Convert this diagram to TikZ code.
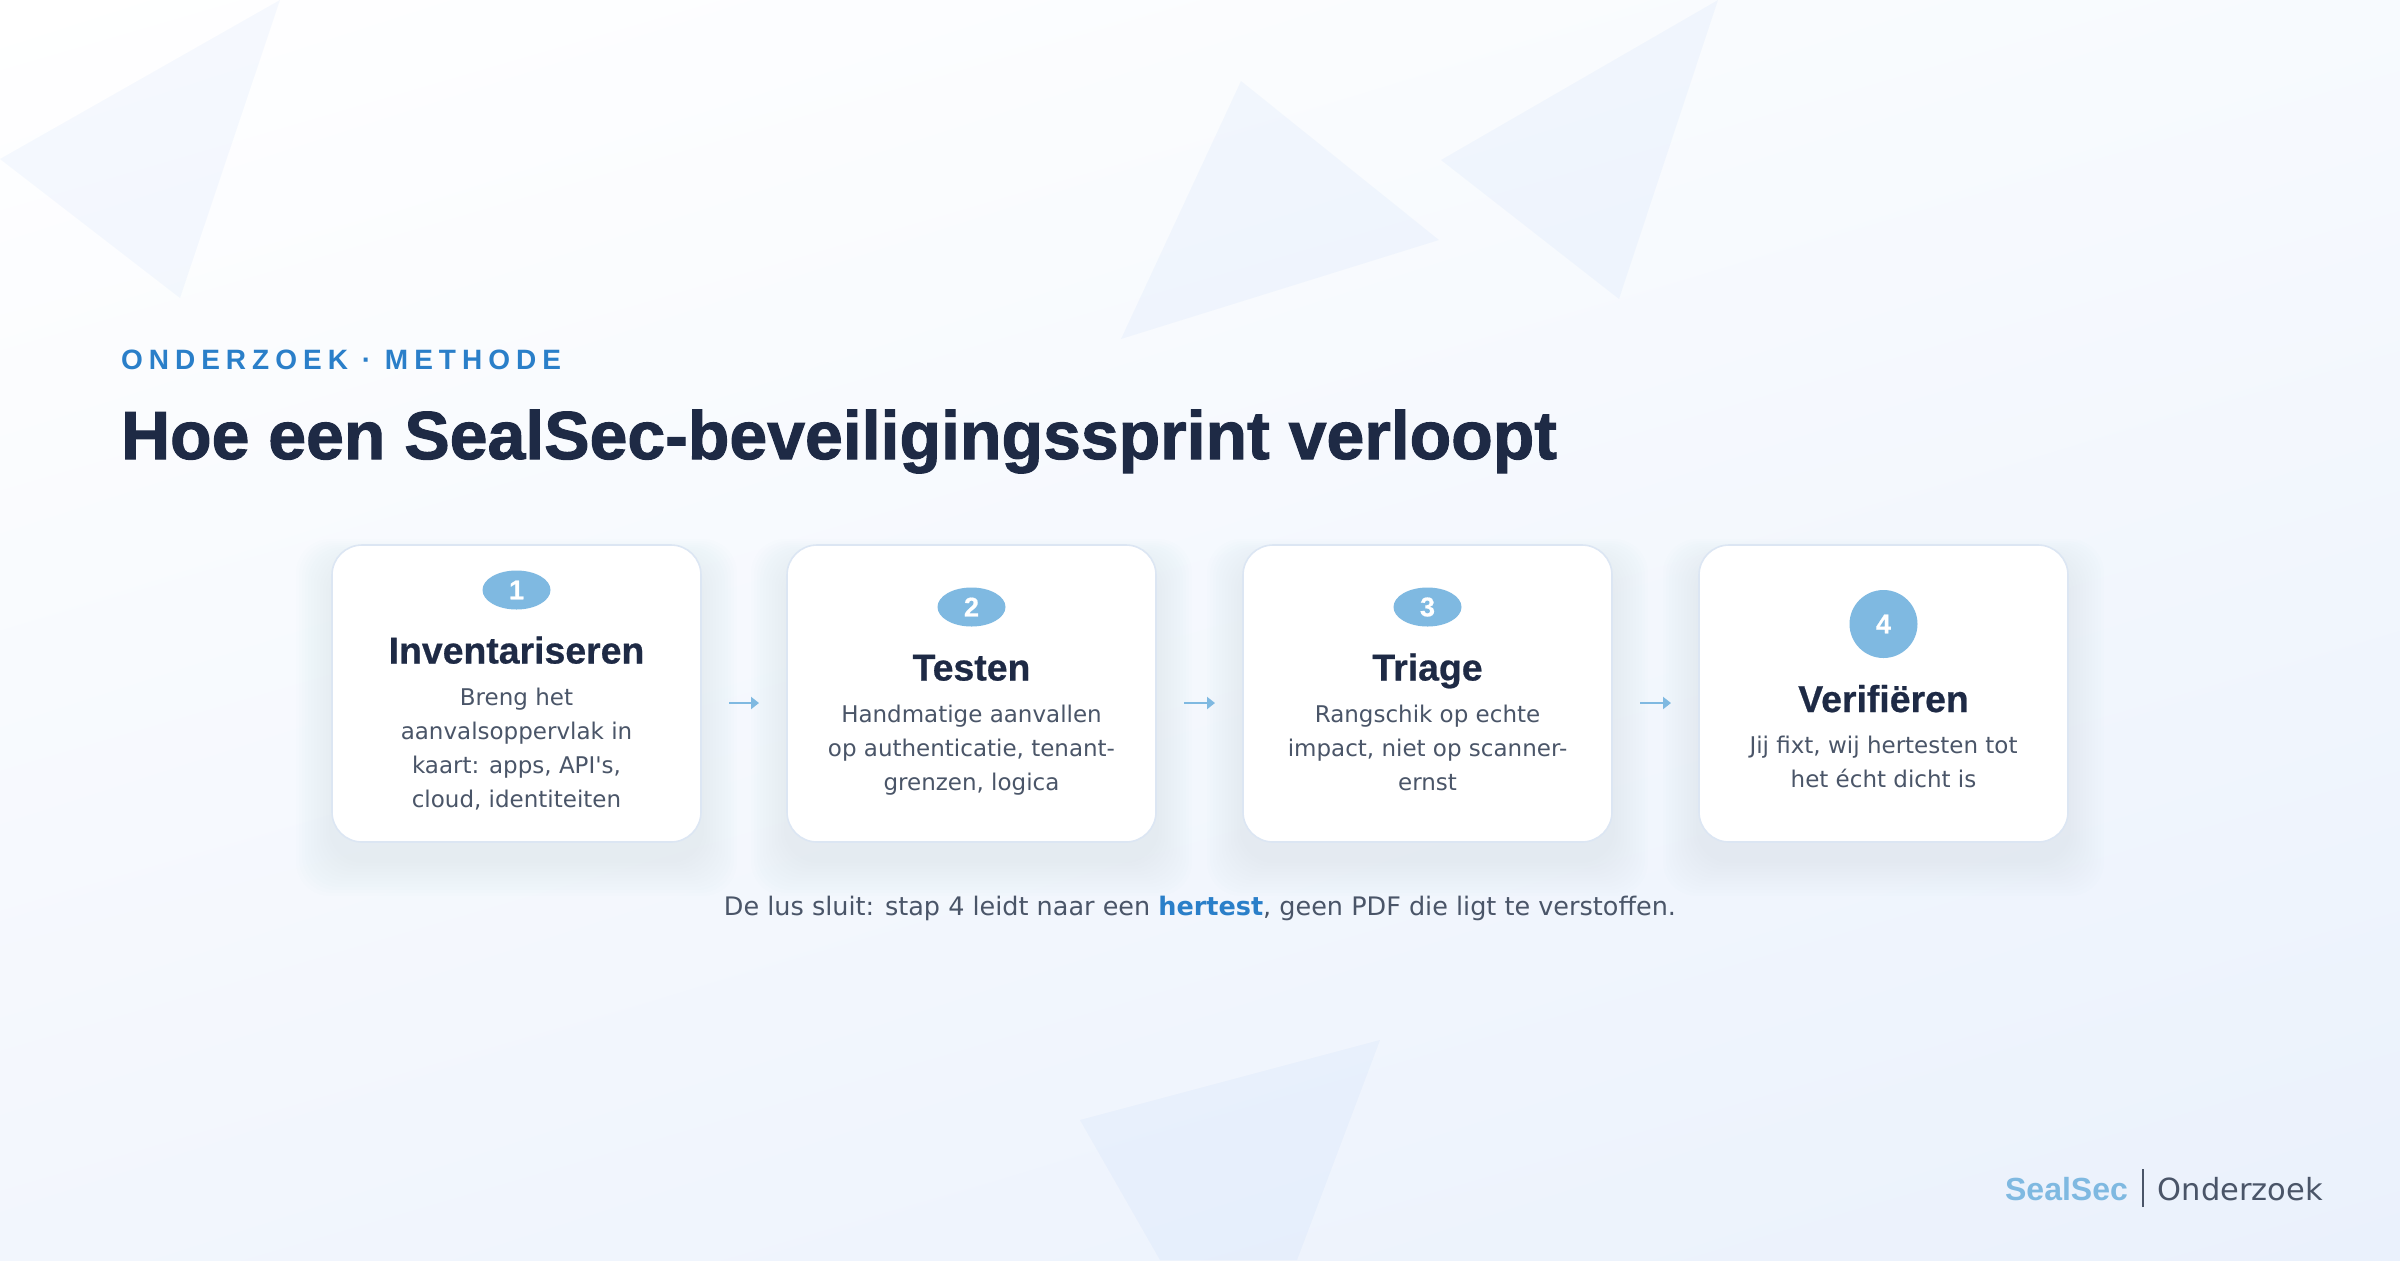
\documentclass[tikz,border=0pt]{standalone}
\usepackage{fontspec}
\setmainfont{DejaVu Sans}
\newfontfamily\bodyfont{DejaVu Sans}
\newfontfamily\headfont{Liberation Sans}
\newfontfamily\heavyfont{Liberation Sans Bold}[FakeBold=1.5]
\newfontfamily\titlefont{Liberation Sans Bold}[FakeBold=0.6]
\newfontfamily\kickerfont{Liberation Sans Bold}[LetterSpace=21.5]
\usetikzlibrary{positioning,shapes.geometric,arrows.meta,shadings}

\definecolor{c1e2a45}{RGB}{30,42,69}
\definecolor{c2a7fc9}{RGB}{42,127,201}
\definecolor{c4a5568}{RGB}{74,85,104}
\definecolor{c7fb9e1}{RGB}{127,185,225}
\definecolor{cdce6f3}{RGB}{220,230,243}
\definecolor{c3b82f6}{RGB}{59,130,246}
\definecolor{c6f94d0}{RGB}{111,148,208}
\definecolor{cf7fafe}{RGB}{247,250,254}
\definecolor{cf2f6fd}{RGB}{242,246,253}
\definecolor{ceaf1fc}{RGB}{234,241,252}

\begin{document}
\begin{tikzpicture}[x=0.5pt, y=-0.5pt, inner sep=0pt, outer sep=0pt,
  tri/.style={fill=c3b82f6, opacity=0.045},
  cardglow/.style={fill=c6f94d0, opacity=0.006, rounded corners=17pt},
  card/.style={draw=cdce6f3, fill=white, line width=0.8pt, rounded corners=15pt,
    minimum width=184.5pt, minimum height=148.5pt},
  badge/.style={ellipse, fill=c7fb9e1, text=white, minimum width=34pt,
    minimum height=19.5pt, font=\titlefont\fontsize{13.5}{13.5}\selectfont},
  badgeround/.style={badge, circle, minimum size=34pt},
  steptitle/.style={text=c1e2a45, font=\titlefont\fontsize{18.7}{20}\selectfont},
  stepbody/.style={text=c4a5568, align=center, font=\bodyfont\fontsize{11.5}{17}\selectfont},
  flow/.style={draw=c7fb9e1, line width=1pt, -{Triangle[length=4pt,width=6pt]},
    shorten <=14pt, shorten >=14pt},
  kicker/.style={text=c2a7fc9, font=\kickerfont\fontsize{14}{16}\selectfont},
  heading/.style={text=c1e2a45, font=\heavyfont\fontsize{34}{40}\selectfont},
  note/.style={text=c4a5568, font=\bodyfont\fontsize{12.75}{15}\selectfont},
  brandname/.style={text=c7fb9e1, font=\headfont\bfseries\fontsize{16}{18}\selectfont},
  brandsub/.style={text=c4a5568, font=\bodyfont\fontsize{15.25}{18}\selectfont},
  brandbar/.style={draw=c4a5568, line width=1pt}]

  \useasboundingbox (0,0) rectangle (2400,1260);

  \shade[upper left=white, upper right=cf7fafe, lower left=cf2f6fd, lower right=ceaf1fc]
    (0,0) rectangle (2400,1260);

  \path[tri] (280,0) -- (0,159) -- (180,298) -- cycle;
  \path[tri] (1241,81) -- (1439,240) -- (1121,339) -- cycle;
  \path[tri] (1718,0) -- (1441,160) -- (1619,299) -- cycle;
  \path[tri] (1380,1040) -- (1080,1120) -- (1160,1260) -- (1297,1260) -- cycle;

  \foreach \cx in {516.5,971.5,1427.5,1883.5}
    \foreach \g in {1,...,12}
      \path[cardglow] (\cx-184.5-3*\g, 563-2*\g) rectangle (\cx+184.5+3*\g, 860+3*\g);

  \node[card] (card1) at (516.5,693.5) {};
  \node[card] (card2) at (971.5,693.5) {};
  \node[card] (card3) at (1427.5,693.5) {};
  \node[card] (card4) at (1883.5,693.5) {};

  \node[badge, below=12.75pt of card1.north] (badge1) {1};
  \node[badge, below=21.25pt of card2.north] (badge2) {2};
  \node[badge, below=21.25pt of card3.north] (badge3) {3};
  \node[badgeround, below=22.5pt of card4.north] (badge4) {4};

  \node[steptitle, below=27pt of badge1.south, anchor=base] (title1) {Inventariseren};
  \node[steptitle, below=27pt of badge2.south, anchor=base] (title2) {Testen};
  \node[steptitle, below=27pt of badge3.south, anchor=base] (title3) {Triage};
  \node[steptitle, below=27pt of badge4.south, anchor=base] (title4) {Verifiëren};

  \node[stepbody, below=12.2pt of title1.base] (body1)
    {Breng het\\aanvalsoppervlak in\\kaart: apps, API's,\\cloud, identiteiten};
  \node[stepbody, below=12.2pt of title2.base] (body2)
    {Handmatige aanvallen\\op authenticatie, tenant-\\grenzen, logica};
  \node[stepbody, below=12.2pt of title3.base] (body3)
    {Rangschik op echte\\impact, niet op scanner-\\ernst};
  \node[stepbody, below=12.2pt of title4.base] (body4)
    {Jij fixt, wij hertesten tot\\het écht dicht is};

  \draw[flow] ([yshift=-4.75pt]card1.east) -- ([yshift=-4.75pt]card2.west);
  \draw[flow] ([yshift=-4.75pt]card2.east) -- ([yshift=-4.75pt]card3.west);
  \draw[flow] ([yshift=-4.75pt]card3.east) -- ([yshift=-4.75pt]card4.west);

  \node[kicker, anchor=base west] (kickertext) at (121,369) {ONDERZOEK · METHODE};
  \node[heading, anchor=base west] (headline) at (121,459)
    {Hoe een SealSec-beveiligingssprint verloopt};

  \node[note, anchor=base] (loopnote) at (1200,915)
    {De lus sluit: stap 4 leidt naar een \textcolor{c2a7fc9}{\bfseries hertest}, geen PDF die ligt te verstoffen.};

  \node[brandsub, anchor=base east] (brandtag) at (2323,1200) {Onderzoek};
  \node[brandname, left=15pt of brandtag.base west, anchor=base east] (brandlogo) {SealSec};
  \draw[brandbar] ([xshift=7.5pt,yshift=-3.5pt]brandlogo.base east) -- ++(0,-38);

\end{tikzpicture}
\end{document}
